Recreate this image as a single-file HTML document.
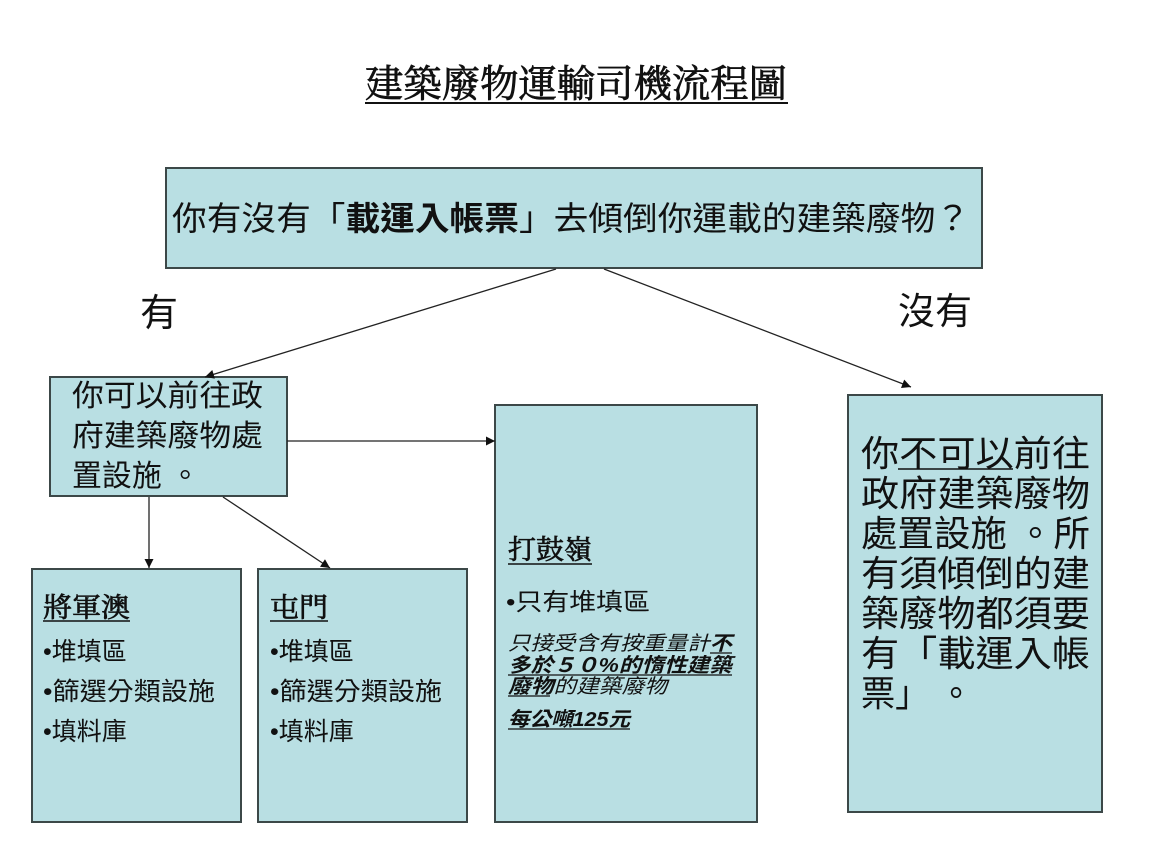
<!DOCTYPE html>
<html>
<head>
<meta charset="utf-8">
<style>
html,body{margin:0;padding:0;background:#fff;}
svg{display:block;}
.s{font-family:"Liberation Sans","Noto Sans CJK TC",sans-serif;fill:#111;}
.r{font-family:"Liberation Serif","Noto Serif CJK SC",serif;fill:#111;stroke:#111;stroke-width:0.7;}
</style>
</head>
<body>
<svg width="1152" height="864" viewBox="0 0 1152 864" xmlns="http://www.w3.org/2000/svg">
<defs>
<marker id="a" viewBox="0 0 10 10" refX="10" refY="5" markerWidth="11" markerHeight="9" orient="auto" markerUnits="userSpaceOnUse">
<path d="M0,0 L10,5 L0,10 z" fill="#111"/>
</marker>
</defs>
<rect width="1152" height="864" fill="#fff"/>

<!-- Title -->
<text class="r" x="365" y="97" font-size="38" textLength="422" lengthAdjust="spacingAndGlyphs">建築廢物運輸司機流程圖</text>
<line x1="365" y1="103" x2="788" y2="103" stroke="#111" stroke-width="2"/>

<!-- Boxes -->
<g fill="#b9dfe3" stroke="#3c4848" stroke-width="2">
<rect x="166" y="168" width="816" height="100"/>
<rect x="50" y="377" width="237" height="119"/>
<rect x="32" y="569" width="209" height="253"/>
<rect x="258" y="569" width="209" height="253"/>
<rect x="495" y="405" width="262" height="417"/>
<rect x="848" y="395" width="254" height="417"/>
</g>

<!-- Connectors -->
<g stroke="#222" stroke-width="1.3" fill="none" marker-end="url(#a)">
<line x1="556" y1="269" x2="205" y2="377"/>
<line x1="604" y1="269" x2="911" y2="387"/>
<line x1="287" y1="441" x2="495" y2="441"/>
<line x1="149" y1="497" x2="149" y2="568"/>
<line x1="223" y1="497" x2="330" y2="568"/>
</g>

<!-- Top box text -->
<text class="s" x="172" y="230" font-size="33" textLength="798" lengthAdjust="spacingAndGlyphs">你有沒有「<tspan font-weight="bold">載運入帳票</tspan>」去傾倒你運載的建築廢物？</text>

<!-- Yes / No labels -->
<text class="s" x="140" y="326" font-size="38">有</text>
<text class="s" x="898" y="324" font-size="37" textLength="74" lengthAdjust="spacingAndGlyphs">沒有</text>

<!-- Left box text -->
<text class="s" x="72" y="406" font-size="30" textLength="191" lengthAdjust="spacingAndGlyphs">你可以前往政</text>
<text class="s" x="72" y="446" font-size="30" textLength="191" lengthAdjust="spacingAndGlyphs">府建築廢物處</text>
<text class="s" x="72" y="486" font-size="30" textLength="128" lengthAdjust="spacingAndGlyphs">置設施 。</text>

<!-- 將軍澳 -->
<text class="r" x="43" y="617" font-size="27" textLength="87" lengthAdjust="spacingAndGlyphs">將軍澳</text>
<line x1="43" y1="621" x2="130" y2="621" stroke="#111" stroke-width="1.5"/>
<text class="s" x="43" y="660" font-size="25">•堆填區</text>
<text class="s" x="43" y="700" font-size="25" textLength="172" lengthAdjust="spacingAndGlyphs">•篩選分類設施</text>
<text class="s" x="43" y="740" font-size="25">•填料庫</text>

<!-- 屯門 -->
<text class="r" x="270" y="617" font-size="27" textLength="58" lengthAdjust="spacingAndGlyphs">屯門</text>
<line x1="270" y1="621" x2="328" y2="621" stroke="#111" stroke-width="1.5"/>
<text class="s" x="270" y="660" font-size="25">•堆填區</text>
<text class="s" x="270" y="700" font-size="25" textLength="172" lengthAdjust="spacingAndGlyphs">•篩選分類設施</text>
<text class="s" x="270" y="740" font-size="25">•填料庫</text>

<!-- 打鼓嶺 -->
<text class="r" x="508" y="559" font-size="27" textLength="84" lengthAdjust="spacingAndGlyphs">打鼓嶺</text>
<line x1="508" y1="564" x2="592" y2="564" stroke="#111" stroke-width="1.5"/>
<text class="s" x="506" y="610" font-size="24" textLength="144" lengthAdjust="spacingAndGlyphs">•只有堆填區</text>
<g font-style="italic">
<text class="s" x="508" y="650" font-size="20" textLength="224" lengthAdjust="spacingAndGlyphs">只接受含有按重量計<tspan font-weight="bold">不</tspan></text>
<line x1="710" y1="653" x2="732" y2="653" stroke="#111" stroke-width="1.2"/>
<text class="s" x="508" y="672" font-size="20" font-weight="bold" textLength="224" lengthAdjust="spacingAndGlyphs">多於５０%的惰性建築</text>
<line x1="508" y1="675" x2="732" y2="675" stroke="#111" stroke-width="1.2"/>
<text class="s" x="508" y="693" font-size="20" textLength="159" lengthAdjust="spacingAndGlyphs"><tspan font-weight="bold">廢物</tspan>的建築廢物</text>
<line x1="508" y1="696" x2="550" y2="696" stroke="#111" stroke-width="1.2"/>
<text class="s" x="508" y="726" font-size="20" font-weight="bold" textLength="122" lengthAdjust="spacingAndGlyphs">每公噸125元</text>
<line x1="508" y1="729" x2="630" y2="729" stroke="#111" stroke-width="1.2"/>
</g>

<!-- Right box text -->
<text class="s" x="861" y="466" font-size="36" textLength="229" lengthAdjust="spacingAndGlyphs">你不可以前往</text>
<line x1="898" y1="469" x2="1013" y2="469" stroke="#111" stroke-width="1.5"/>
<text class="s" x="861" y="506" font-size="36" textLength="229" lengthAdjust="spacingAndGlyphs">政府建築廢物</text>
<text class="s" x="861" y="546" font-size="36" textLength="229" lengthAdjust="spacingAndGlyphs">處置設施 。所</text>
<text class="s" x="861" y="586" font-size="36" textLength="229" lengthAdjust="spacingAndGlyphs">有須傾倒的建</text>
<text class="s" x="861" y="626" font-size="36" textLength="229" lengthAdjust="spacingAndGlyphs">築廢物都須要</text>
<text class="s" x="861" y="666" font-size="36" textLength="229" lengthAdjust="spacingAndGlyphs">有「載運入帳</text>
<text class="s" x="861" y="706" font-size="36" textLength="112" lengthAdjust="spacingAndGlyphs">票」 。</text>
</svg>
</body>
</html>
